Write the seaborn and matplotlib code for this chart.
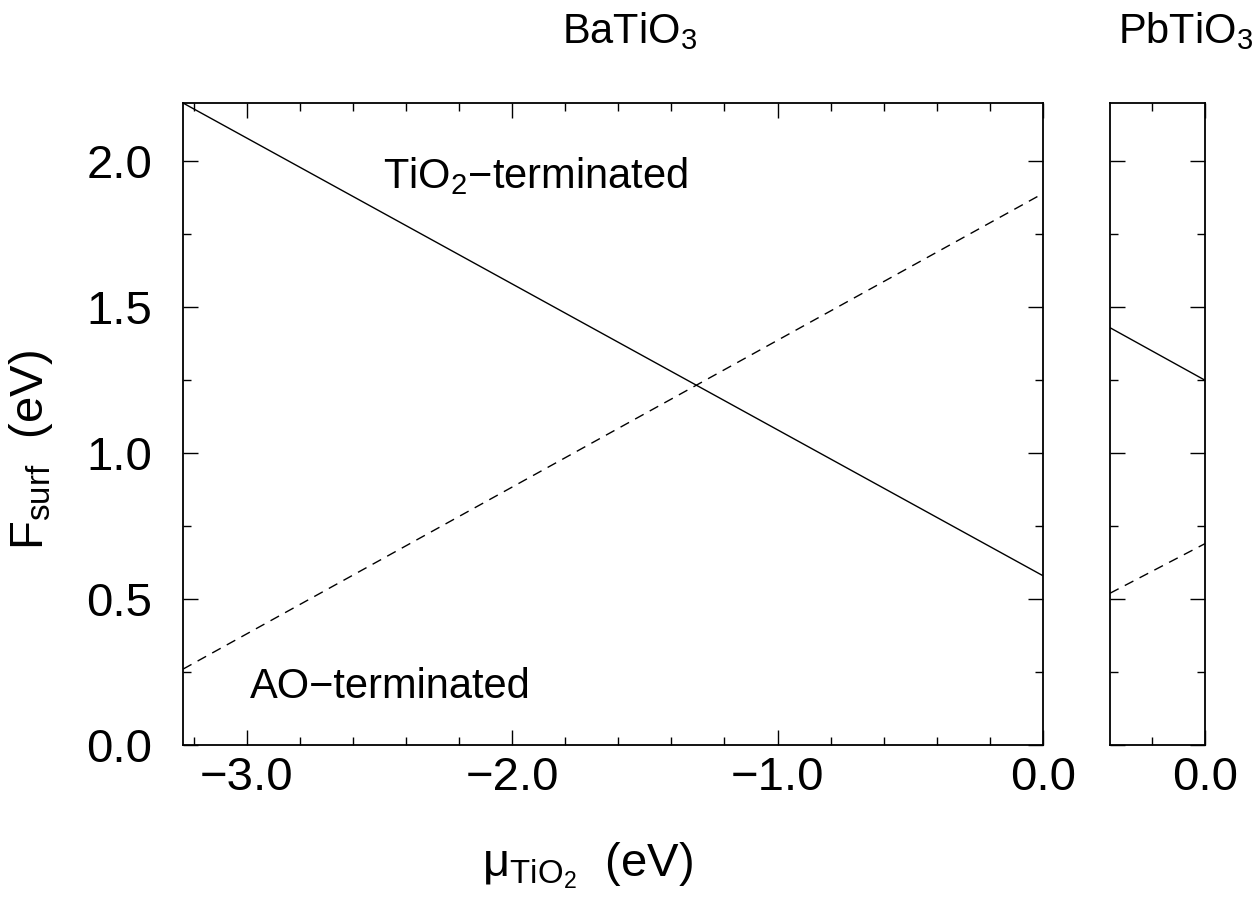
import matplotlib
matplotlib.use('Agg')
import matplotlib.pyplot as plt
import seaborn as sns
import pandas as pd
from matplotlib.ticker import MultipleLocator, FixedLocator

# BaTiO3 panel: surface free energy vs chemical potential (end points)
mu_ba = [-3.24, 0.0]
f_tio2_ba = [2.20, 0.58]
f_ao_ba = [0.26, 1.89]

# PbTiO3 panel
mu_pb = [-0.36, 0.0]
f_tio2_pb = [1.43, 1.25]
f_ao_pb = [0.52, 0.69]

x_ticks = [-3.0, -2.0, -1.0, 0.0]
x_ticklabels = ['\u22123.0', '\u22122.0', '\u22121.0', '0.0']
y_ticks = [0.0, 0.5, 1.0, 1.5, 2.0]
y_ticklabels = ['0.0', '0.5', '1.0', '1.5', '2.0']

sns.set_theme(style='ticks')
plt.rcParams['font.family'] = ['Liberation Sans', 'DejaVu Sans']
plt.rcParams['mathtext.default'] = 'regular'
plt.rcParams['mathtext.fontset'] = 'custom'
plt.rcParams['mathtext.rm'] = 'Liberation Sans'
plt.rcParams['text.color'] = 'black'
plt.rcParams['axes.labelcolor'] = 'black'


def make_df(mu, f_tio2, f_ao):
    return pd.DataFrame({
        'mu': list(mu) + list(mu),
        'F': list(f_tio2) + list(f_ao),
        'term': ['TiO2'] * len(mu) + ['AO'] * len(mu),
    })


W, H = 1258, 905
fig = plt.figure(figsize=(W / 100, H / 100), dpi=100)
bottom = 1 - 745 / H
height = (745 - 103) / H
ax1 = fig.add_axes([183 / W, bottom, (1043 - 183) / W, height])
ax2 = fig.add_axes([1110 / W, bottom, (1205 - 1110) / W, height])

dashes = {'TiO2': '', 'AO': (7, 5)}
for ax, df in [(ax1, make_df(mu_ba, f_tio2_ba, f_ao_ba)),
               (ax2, make_df(mu_pb, f_tio2_pb, f_ao_pb))]:
    sns.lineplot(data=df, x='mu', y='F', style='term', dashes=dashes,
                 color='black', linewidth=1.0, legend=False, ax=ax)
    ax.set_ylim(0, 2.2)
    ax.yaxis.set_major_locator(FixedLocator(y_ticks))
    ax.yaxis.set_minor_locator(MultipleLocator(0.25))
    ax.xaxis.set_minor_locator(MultipleLocator(0.2))
    ax.tick_params(which='both', direction='in', top=True, right=True,
                   colors='black', width=1.0)
    ax.tick_params(which='major', length=11)
    ax.tick_params(which='minor', length=6)
    ax.tick_params(axis='x', labelsize=34, pad=8)
    ax.tick_params(axis='y', labelsize=34, pad=22)
    for s in ax.spines.values():
        s.set_linewidth(1.3)
        s.set_color('black')
    ax.set_xlabel('')
    ax.set_ylabel('')

ax1.set_xlim(mu_ba[0], mu_ba[1])
ax1.xaxis.set_major_locator(FixedLocator(x_ticks))
ax1.set_xticklabels(x_ticklabels)
ax1.set_yticklabels(y_ticklabels)

ax2.set_xlim(mu_pb[0], mu_pb[1])
ax2.xaxis.set_major_locator(FixedLocator([0.0]))
ax2.set_xticklabels(['0.0'])
ax2.set_yticklabels([])

ax1.text(-2.487, 1.909, 'TiO$_2$\u2212terminated', fontsize=30, va='baseline', ha='left')
ax1.text(-2.988, 0.161, 'AO\u2212terminated', fontsize=30, va='baseline', ha='left')

fig.text(562 / W, 1 - 43 / H, 'BaTiO$_3$', fontsize=30, ha='left', va='baseline')
fig.text(1118 / W, 1 - 43 / H, 'PbTiO$_3$', fontsize=30, ha='left', va='baseline')

fig.text(482 / W, 1 - 876 / H, '\u03bc$_{TiO_2}$  (eV)', fontsize=34, ha='left', va='baseline')
fig.text(31 / W, 1 - 350 / H, 'F$_{surf}$  (eV)', fontsize=34, ha='center', va='top',
         rotation=90)

fig.savefig('out.png', dpi=100)
